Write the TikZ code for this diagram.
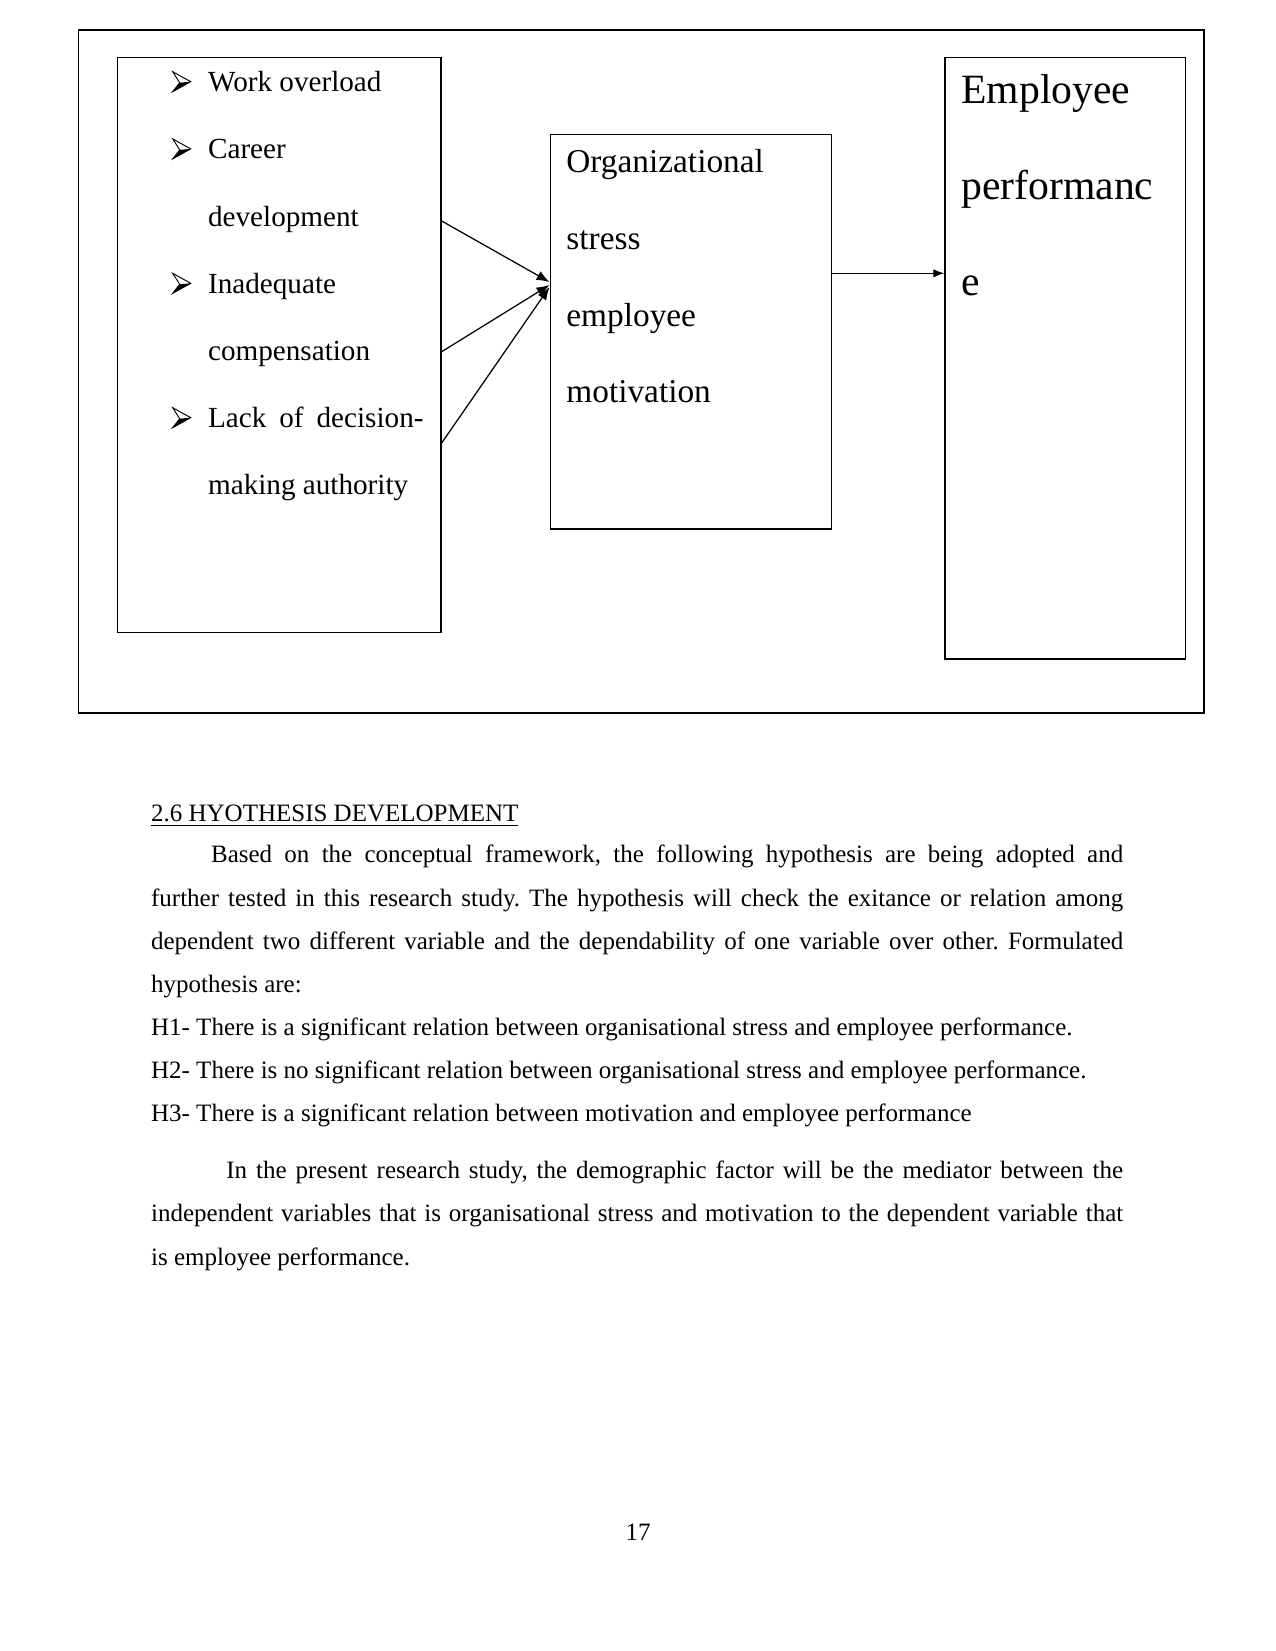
\documentclass[tikz,border=0pt]{standalone}
\usepackage{fontspec}
\setmainfont{Liberation Serif}
\usetikzlibrary{arrows.meta}
\frenchspacing
\begin{document}
\begin{tikzpicture}[x=0.48pt,y=-0.48pt,
  box/.style={draw,line width=0.8pt,inner sep=0pt,anchor=north west},
  arr/.style={line width=0.6pt,-{Latex[length=5.3pt,width=4pt]}},
  arrbig/.style={line width=0.6pt,-{Latex[length=6.2pt,width=4.8pt]}},
  ltxt/.style={anchor=base west,inner sep=0pt,font=\fontsize{14}{16}\selectfont},
  mtxt/.style={anchor=base west,inner sep=0pt,font=\fontsize{16}{18}\selectfont},
  rtxt/.style={anchor=base west,inner sep=0pt,font=\fontsize{20}{22}\selectfont},
  body/.style={anchor=base west,inner sep=0pt,font=\fontsize{12}{14}\selectfont},
  arrowbullet/.pic={
    \fill[black] (7,-9) -- (18,-10) -- (0,0) -- cycle;
    \draw[line width=0.45pt,line join=miter] (0,-20) -- (18,-10) -- (0,0) -- (7,-9) -- cycle;
  }]
\useasboundingbox (0,0) rectangle (1275,1651);
\fill[white] (0,0) rectangle (1275,1651);
% frames
\node[box,minimum width=540.24pt,minimum height=327.7pt] (frame) at (77.5,29.5) {};
\node[box,minimum width=155.28pt,minimum height=276pt] (causes) at (116.5,56.7) {};
\node[box,minimum width=134.88pt,minimum height=189.5pt] (org) at (549.5,133.7) {};
\node[box,minimum width=115.3pt,minimum height=288.6pt] (perf) at (944.4,56.7) {};
% left list bullets
\pic at (172.7,91.7) {arrowbullet};
\pic at (172.7,158.9) {arrowbullet};
\pic at (172.7,293.3) {arrowbullet};
\pic at (172.7,427.7) {arrowbullet};
% left list text
\node[ltxt] (t1) at (207.7,91.7) {Work overload};
\node[ltxt] (t2) at (207.7,158.9) {Career};
\node[ltxt] (t3) at (207.7,226.1) {development};
\node[ltxt] (t4) at (207.7,293.3) {Inadequate};
\node[ltxt] (t5) at (207.7,360.5) {compensation};
\node[ltxt] (t6) at (207.7,427.7) {\makebox[103.4pt][s]{Lack of decision-}};
\node[ltxt] (t7) at (207.7,494.9) {making authority};
% middle text
\node[mtxt] (m1) at (566,172.7) {Organizational};
\node[mtxt] (m2) at (566,249.4) {stress};
\node[mtxt] (m3) at (566,326.1) {employee};
\node[mtxt] (m4) at (566,402.8) {motivation};
% right text
\node[rtxt] (r1) at (961,104) {Employee};
\node[rtxt] (r2) at (961,200) {performanc};
\node[rtxt] (r3) at (961,295.5) {e};
% connectors
\draw[arrbig] (causes.north east |- 0,221) -- (org.north west |- 0,282);
\draw[arrbig] (causes.north east |- 0,351.7) -- (org.north west |- 0,285);
\draw[arrbig] (causes.north east |- 0,443) -- (org.north west |- 0,287);
\draw[arr] (org.north east |- 0,273.3) -- (perf.north west |- 0,273.3);
% body text
\node[body] (head) at (150.7,821.7) {\underline{2.6 HYOTHESIS DEVELOPMENT}};
\node[body] (p1) at (210.7,862.7) {\makebox[437.8pt][s]{Based on the conceptual framework, the following hypothesis are being adopted and}};
\node[body] (p2) at (150.7,906.3) {\makebox[466.6pt][s]{further tested in this research study. The hypothesis will check the exitance or relation among}};
\node[body] (p3) at (150.7,949.3) {\makebox[466.6pt][s]{dependent two different variable and the dependability of one variable over other. Formulated}};
\node[body] (p4) at (150.7,992.5) {hypothesis are:};
\node[body] (h1) at (150.7,1035.3) {H1- There is a significant relation between organisational stress and employee performance.};
\node[body] (h2) at (150.7,1078.3) {H2- There is no significant relation between organisational stress and employee performance.};
\node[body] (h3) at (150.7,1121.7) {H3- There is a significant relation between motivation and employee performance};
\node[body] (q1) at (226,1178.3) {\makebox[430.4pt][s]{In the present research study, the demographic factor will be the mediator between the}};
\node[body] (q2) at (150.7,1221.7) {\makebox[466.6pt][s]{independent variables that is organisational stress and motivation to the dependent variable that}};
\node[body] (q3) at (150.7,1265) {is employee performance.};
\node[anchor=base,inner sep=0pt,font=\fontsize{12}{14}\selectfont] (pg) at (638,1540) {17};
\end{tikzpicture}
\end{document}
